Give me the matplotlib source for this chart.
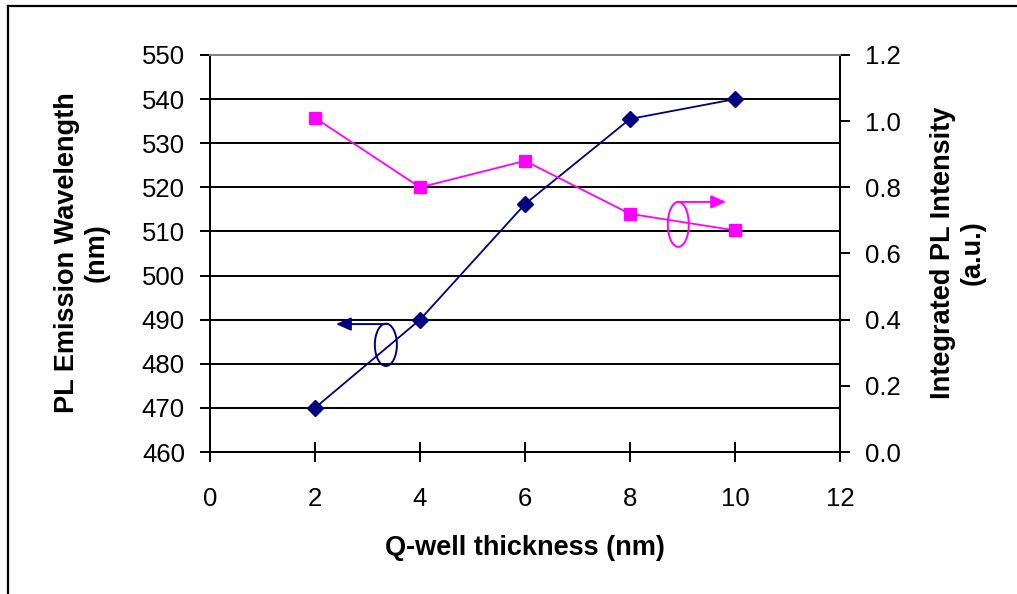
import matplotlib
matplotlib.use("Agg")
import matplotlib.pyplot as plt
from matplotlib.patches import Ellipse
from matplotlib.lines import Line2D

plt.rcParams['font.family'] = ['Liberation Sans', 'DejaVu Sans']

thickness = [2, 4, 6, 8, 10]
wavelength = [470, 490, 516.2, 535.5, 540]
intensity = [1.01, 0.80, 0.88, 0.72, 0.67]

x_ticks = [0, 2, 4, 6, 8, 10, 12]
left_ticks = [460, 470, 480, 490, 500, 510, 520, 530, 540, 550]
right_ticks = [0.0, 0.2, 0.4, 0.6, 0.8, 1.0, 1.2]

navy = '#000080'
magenta = '#FF00FF'

W, H = 1017, 594
fig = plt.figure(figsize=(W / 100, H / 100), dpi=100)
ax = fig.add_axes([210 / W, 142 / H, 630 / W, 397 / H])
ax2 = ax.twinx()

# outer frame: top and left edges of the chart border
fig.add_artist(Line2D([8 / W, 1.0], [1 - 6 / H, 1 - 6 / H],
                      transform=fig.transFigure, color='black', linewidth=1.6))
fig.add_artist(Line2D([8 / W, 8 / W], [0.0, 1 - 6 / H],
                      transform=fig.transFigure, color='black', linewidth=1.6))

ax.set_xlim(0, 12)
ax.set_ylim(460, 550)
ax2.set_ylim(0, 1.2)

for y in left_ticks[1:-1]:
    ax.axhline(y, color='black', linewidth=1.4, zorder=1)

ax.plot(thickness, wavelength, color=navy, linewidth=1.3, marker='D',
        markersize=8, zorder=3)
ax2.plot(thickness, intensity, color=magenta, linewidth=1.3, marker='s',
         markersize=9, zorder=3)

tick_font = 18.5
ax.set_xticks(x_ticks)
ax.set_xticklabels([str(v) for v in x_ticks], fontsize=tick_font)
ax.set_yticks(left_ticks)
ax.set_yticklabels([str(v) for v in left_ticks], fontsize=tick_font)
ax2.set_yticks(right_ticks)
ax2.set_yticklabels([f"{v:.1f}" for v in right_ticks], fontsize=tick_font)

ax.tick_params(axis='x', direction='inout', length=14, width=1.4, pad=18)
ax.tick_params(axis='y', direction='out', length=7, width=1.4, pad=11)
ax2.tick_params(axis='y', direction='out', length=7, width=1.4, pad=11)

for a in (ax, ax2):
    a.spines['top'].set_color('#808080')
    a.spines['top'].set_linewidth(1.4)
    for s in ('left', 'right', 'bottom'):
        a.spines[s].set_linewidth(1.4)
        a.spines[s].set_color('black')

label_font = 19.5
fig.text(525 / W, 1 - 548 / H, 'Q-well thickness (nm)', fontsize=label_font,
         fontweight='bold', ha='center', va='center')
fig.text(82 / W, 1 - 253 / H, 'PL Emission Wavelength\n(nm)',
         fontsize=label_font, fontweight='bold', rotation=90,
         ha='center', va='center', multialignment='center', linespacing=1.15)
fig.text(958 / W, 1 - 253 / H, 'Integrated PL Intensity\n(a.u.)',
         fontsize=label_font, fontweight='bold', rotation=90,
         ha='center', va='center', multialignment='center', linespacing=1.15)

# series markers: ellipse around each curve with an arrow toward its axis
ax.add_patch(Ellipse((3.35, 484.3), 0.42, 9.6, fill=False, edgecolor=navy,
                     linewidth=1.4, zorder=4))
ax.annotate('', xy=(2.4, 489.0), xytext=(3.36, 489.0),
            arrowprops=dict(arrowstyle='-|>,head_length=0.9,head_width=0.4',
                            color=navy, linewidth=1.4, shrinkA=0, shrinkB=0),
            zorder=4)
ax.add_patch(Ellipse((8.92, 511.6), 0.40, 10.2, fill=False, edgecolor=magenta,
                     linewidth=1.4, zorder=4))
ax.annotate('', xy=(9.83, 516.7), xytext=(8.9, 516.7),
            arrowprops=dict(arrowstyle='-|>,head_length=0.9,head_width=0.4',
                            color=magenta, linewidth=1.4, shrinkA=0, shrinkB=0),
            zorder=4)

fig.savefig('out.png', dpi=100)
